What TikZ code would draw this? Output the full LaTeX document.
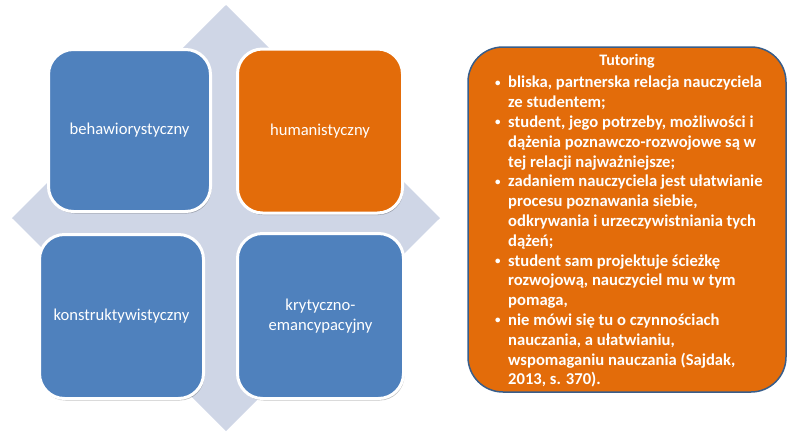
\documentclass[tikz,border=0pt]{standalone}
\usepackage{fontspec}
\setmainfont{Carlito}
\usetikzlibrary{shadows}
\definecolor{diam}{HTML}{CFD6E6}
\definecolor{boxblue}{HTML}{4F81BD}
\definecolor{boxorange}{HTML}{E36C0A}
\definecolor{edgeblue}{HTML}{385D8A}
\tikzset{
  quad/.style={draw=white, line width=3pt, rounded corners=25pt, fill=boxblue,
    text=white, align=center, font=\fontsize{16.6}{19.5}\selectfont,
    drop shadow={shadow xshift=1pt, shadow yshift=-2pt, fill=black, opacity=0.25}},
  bul/.style={anchor=north west, inner sep=0pt, text=white, align=left,
    font=\fontsize{16.6}{19.8}\selectfont\bfseries}
}
\newcommand{\bl}{\llap{\makebox[13pt][l]{\fontsize{11}{11}\selectfont\raisebox{1.5pt}{•}}}}
\begin{document}
\begin{tikzpicture}[x=1pt,y=-1pt]
\useasboundingbox (0,0) rectangle (788,432);
\fill[diam] (226,5) -- (440,218) -- (226,431) -- (12,218) -- cycle;
\node[quad, minimum width=162pt, minimum height=162pt] (beh) at (129.5,130.5) {behawiorystyczny};
\node[quad, fill=boxorange, minimum width=165pt, minimum height=164pt] (hum) at (320,131) {humanistyczny};
\node[quad, minimum width=164pt, minimum height=164pt] (kon) at (121.5,316.5) {konstruktywistyczny};
\node[quad, minimum width=166pt, minimum height=165pt] (kry) at (320.5,316) {krytyczno-\\emancypacyjny};
\node[draw=edgeblue, line width=1.5pt, fill=boxorange, rounded corners=35pt,
  minimum width=318pt, minimum height=345pt] (tut) at (627,219.5) {};
\node[text=white, font=\fontsize{16}{19.8}\selectfont\bfseries, inner sep=0pt] (tt) at (627,61) {Tutoring};
\node[bul] (tl) at (508,76) {%
\bl bliska, partnerska relacja nauczyciela\\
ze studentem;\\
\bl student, jego potrzeby, możliwości i\\
dążenia poznawczo-rozwojowe są w\\
tej relacji najważniejsze;\\
\bl zadaniem nauczyciela jest ułatwianie\\
procesu poznawania siebie,\\
odkrywania i urzeczywistniania tych\\
dążeń;\\
\bl student sam projektuje ścieżkę\\
rozwojową, nauczyciel mu w tym\\
pomaga,\\
\bl nie mówi się tu o czynnościach\\
nauczania, a ułatwianiu,\\
wspomaganiu nauczania (Sajdak,\\
2013, s. 370).};
\end{tikzpicture}
\end{document}
